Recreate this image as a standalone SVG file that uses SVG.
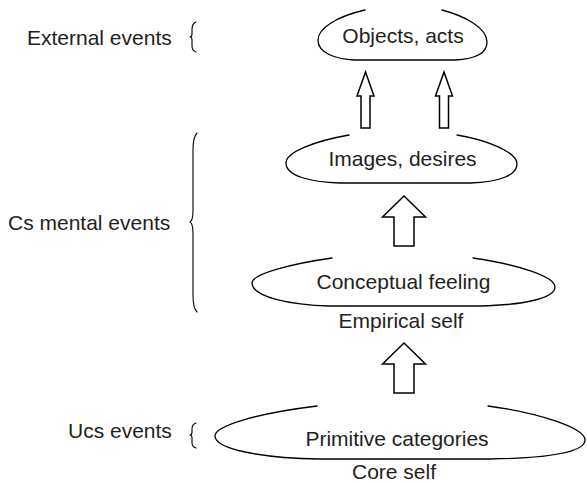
<svg xmlns="http://www.w3.org/2000/svg" width="587" height="483" viewBox="0 0 587 483">
<style>
.shape{fill:none;stroke:#000;stroke-width:1.3;stroke-linecap:round}
.brace{fill:none;stroke:#000;stroke-width:1.1;stroke-linecap:round;stroke-linejoin:round}
.arrow{fill:#fff;stroke:#000;stroke-width:1.5;stroke-linejoin:miter}
text{font-family:"Liberation Sans",Arial,Helvetica,sans-serif;font-size:21px;fill:#231f20}
.c{text-anchor:middle}
</style>
<rect width="587" height="483" fill="#fff"/>
<g id="objects">
<path class="shape" d="M365,10 C338,16 318,28 318,40 C318,53 335,59 355,60 L455,60 C475,59 487,53 487,42 C487,28 465,16 442,10"/>
<text class="c" x="403" y="43">Objects, acts</text>
</g>
<g id="images">
<path class="shape" d="M349,135 C315,141 286,152 286,163 C286,176 310,182 340,183 L470,183 C500,182 517,175 517,164 C517,152 487,140 457,135"/>
<text class="c" x="402.5" y="166">Images, desires</text>
</g>
<g id="conceptual">
<path class="shape" d="M332,258 C290,264 252,274 252,283 C252,297 290,305 330,306 L480,306 C525,305 555,298 555,287 C555,276 515,264 473,258"/>
<text class="c" x="403.5" y="289">Conceptual feeling</text>
<text class="c" x="401" y="328">Empirical self</text>
</g>
<g id="primitive">
<path class="shape" d="M317,406 C260,413 215,425 215,436 C215,449 260,458 320,459 L490,459 C550,458 585,452 585,440 C585,428 540,413 488,406"/>
<text class="c" x="397" y="446">Primitive categories</text>
<text class="c" x="394" y="479">Core self</text>
</g>
<g id="connectors">
<polygon class="arrow" points="365.5,72 374,96 370,96 370,128 361,128 361,96 357,96"/>
<polygon class="arrow" points="444,72 452.5,96 448.5,96 448.5,128 439.5,128 439.5,96 435.5,96"/>
<polygon class="arrow" points="404,196 425.5,217 414,217 414,246 394,246 394,217 382.5,217"/>
<polygon class="arrow" points="404,343 425.5,364 414,364 414,393 394,393 394,364 382.5,364"/>
</g>
<g id="label-external">
<text x="27" y="45">External events</text>
<path class="brace" d="M196,22 C193,23 192,26 192,30 L192,34 C192,36 191.5,37 190,37 C191.5,37 192,38 192,40 L192,46 C192,49 193,51 196,52"/>
</g>
<g id="label-cs">
<text x="8" y="230">Cs mental events</text>
<path class="brace" d="M197,133 C194,136 193,142 193,150 L193,210 C193,217 192,221 190,222 C192,223 193,227 193,234 L193,295 C193,303 194,309 197,312"/>
</g>
<g id="label-ucs">
<text x="68" y="438">Ucs events</text>
<path class="brace" d="M196,423 C193,424 192,426 192,429 L192,432 C192,434 191.5,435 190,435 C191.5,435 192,436 192,438 L192,443 C192,446 193,447 196,448"/>
</g>
</svg>
